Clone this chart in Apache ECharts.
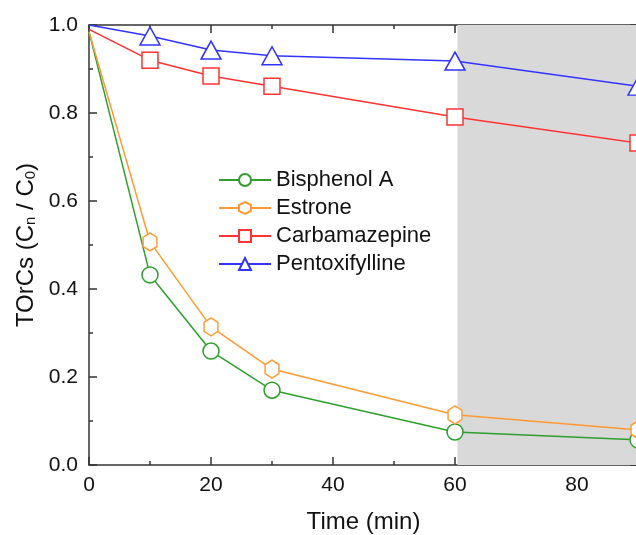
<!DOCTYPE html>
<html>
<head>
<meta charset="utf-8">
<script src="https://cdn.jsdelivr.net/npm/echarts@6/dist/echarts.min.js"></script>
<style>
html,body{margin:0;padding:0;background:#fff;}
#chart{width:636px;height:535px;}
</style>
</head>
<body>
<div id="chart"></div>
<script>
var times = [0, 10, 20, 30, 60, 90];
var bisphenolA = [0.985, 0.432, 0.259, 0.170, 0.075, 0.057];
var estrone = [0.985, 0.507, 0.314, 0.218, 0.114, 0.080];
var carbamazepine = [0.99, 0.920, 0.884, 0.861, 0.791, 0.732];
var pentoxifylline = [1.0, 0.975, 0.943, 0.930, 0.918, 0.861];
var shadeRange = [60.4, 90];

var hexPath = 'path://M0,-1 L0.866,-0.5 L0.866,0.5 L0,1 L-0.866,0.5 L-0.866,-0.5 Z';
var FONT = 'Liberation Sans, Arial, sans-serif';

function pts(vals) {
  return times.map(function (t, i) {
    var p = { value: [t, vals[i]] };
    if (i === 0) p.symbolSize = 0;
    return p;
  });
}

function mk(name, vals, color, symbol, size) {
  return {
    name: name,
    type: 'line',
    data: pts(vals),
    symbol: symbol,
    symbolSize: size,
    symbolKeepAspect: true,
    showAllSymbol: true,
    lineStyle: { color: color, width: 1.5 },
    itemStyle: { color: '#ffffff', borderColor: color, borderWidth: 1.5 },
    emphasis: { disabled: true },
    z: 3
  };
}

var series = [
  mk('Bisphenol A', bisphenolA, '#2e9e2e', 'circle', 16),
  mk('Estrone', estrone, '#ff9a33', hexPath, [16, 18]),
  mk('Carbamazepine', carbamazepine, '#ff3333', 'rect', 16),
  mk('Pentoxifylline', pentoxifylline, '#3333ff', 'triangle', [20, 18])
];
series[0].markArea = {
  silent: true,
  itemStyle: { color: '#d9d9d9' },
  data: [[{ xAxis: shadeRange[0] }, { xAxis: shadeRange[1] }]]
};

var axisLine = { show: true, onZero: false, lineStyle: { color: '#333', width: 1.5 } };
var tick = { inside: true, length: 8, lineStyle: { color: '#333', width: 1.5 } };
var minor = { show: true, splitNumber: 2, length: 4, lineStyle: { color: '#333', width: 1.5 } };

var chart = echarts.init(document.getElementById('chart'));
chart.setOption({
  animation: false,
  backgroundColor: '#fff',
  textStyle: { fontFamily: FONT },
  grid: { left: 89, top: 25, width: 549, height: 440, containLabel: false, outerBoundsMode: 'none' },
  legend: {
    orient: 'vertical',
    left: 218,
    top: 169,
    padding: 0,
    itemWidth: 52,
    itemHeight: 15,
    itemGap: 6,
    textStyle: { fontSize: 22, color: '#111', fontFamily: FONT },
    data: ['Bisphenol A', 'Estrone', 'Carbamazepine', 'Pentoxifylline']
  },
  xAxis: [{
    type: 'value', min: 0, max: 90, interval: 20,
    position: 'bottom',
    name: 'Time (min)', nameLocation: 'middle', nameGap: 45,
    nameTextStyle: { fontSize: 24, color: '#111', fontFamily: FONT },
    axisLine: axisLine,
    axisTick: tick,
    minorTick: minor,
    axisLabel: { fontSize: 21, color: '#111', margin: 10, showMaxLabel: false, fontFamily: FONT },
    splitLine: { show: false }
  }, {
    type: 'value', min: 0, max: 90, interval: 20,
    position: 'top',
    axisLine: axisLine,
    axisTick: tick,
    minorTick: minor,
    axisLabel: { show: false },
    splitLine: { show: false }
  }],
  yAxis: [{
    type: 'value', min: 0, max: 1.0, interval: 0.2,
    position: 'left',
    name: '{a|TOrCs (C}{s|n}{a| / C}{s|0}{a|)}', nameLocation: 'middle', nameGap: 50,
    nameTextStyle: {
      color: '#111', fontFamily: FONT,
      rich: {
        a: { fontSize: 24, color: '#111', fontFamily: FONT },
        s: { fontSize: 15, color: '#111', fontFamily: FONT, verticalAlign: 'bottom', padding: [8, 0, 0, 0] }
      }
    },
    axisLine: axisLine,
    axisTick: tick,
    minorTick: minor,
    axisLabel: { fontSize: 21, color: '#111', margin: 11, fontFamily: FONT,
      formatter: function (v) { return v.toFixed(1); } },
    splitLine: { show: false }
  }, {
    type: 'value', min: 0, max: 1.0, interval: 0.2,
    position: 'right',
    axisLine: axisLine,
    axisTick: tick,
    minorTick: minor,
    axisLabel: { show: false },
    splitLine: { show: false }
  }],
  series: series
});
</script>
</body>
</html>
